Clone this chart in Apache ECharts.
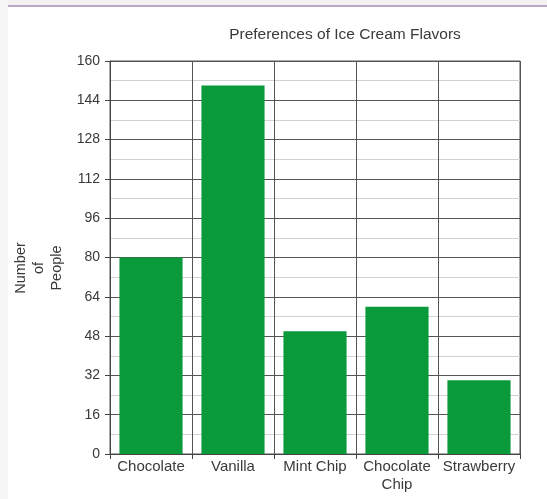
<!DOCTYPE html>
<html>
<head>
<meta charset="utf-8">
<script src="https://cdn.jsdelivr.net/npm/echarts@6/dist/echarts.min.js"></script>
<style>
  html, body { margin: 0; padding: 0; background: #ffffff; }
  #chart { width: 547px; height: 499px; }
</style>
</head>
<body>
<div id="chart"></div>
<script>
// Survey results: how many people prefer each ice cream flavor
const flavors = ['Chocolate', 'Vanilla', 'Mint Chip', 'Chocolate\nChip', 'Strawberry'];
const people = [80, 150, 50, 60, 30];
const yTicks = { min: 0, max: 160, step: 16 };

const font = '"Liberation Sans", Arial, sans-serif';
const textColor = '#3a3a3a';

const chart = echarts.init(document.getElementById('chart'), null, { renderer: 'canvas' });

chart.setOption({
  backgroundColor: '#ffffff',
  animation: false,
  title: {
    text: 'Preferences of Ice Cream Flavors',
    left: 340,
    top: 22,
    textAlign: 'center',
    textStyle: { fontFamily: font, fontSize: 15.5, fontWeight: 'normal', color: textColor }
  },
  graphic: [
    // thin grey band with a violet rule across the top
    { type: 'rect', shape: { x: 0, y: 0, width: 547, height: 5 }, style: { fill: '#f3f3f3' }, silent: true },
    { type: 'rect', shape: { x: 0, y: 0, width: 8, height: 499 }, style: { fill: '#f7f7f7' }, silent: true },
    { type: 'rect', shape: { x: 8, y: 5, width: 539, height: 2 }, style: { fill: '#bca6c4' }, silent: true },
    {
      type: 'text',
      x: 39, y: 268,
      rotation: Math.PI / 2,
      style: {
        text: 'Number\nof\nPeople',
        fontFamily: font, fontSize: 14.5, fill: textColor,
        align: 'center', verticalAlign: 'middle', lineHeight: 18
      }
    }
  ],
  grid: {
    left: 110, right: 27, top: 61, bottom: 45,
    show: true, borderColor: '#555555', borderWidth: 1,
    backgroundColor: 'transparent'
  },
  xAxis: {
    type: 'category',
    data: flavors,
    boundaryGap: true,
    axisLine: { show: true, lineStyle: { color: '#444444', width: 1 } },
    axisTick: { show: true, length: 5, lineStyle: { color: '#444444' } },
    splitLine: { show: true, lineStyle: { color: '#555555', width: 1 } },
    axisLabel: {
      interval: 0, margin: 4,
      fontFamily: font, fontSize: 15, color: textColor, lineHeight: 18
    }
  },
  yAxis: {
    type: 'value',
    min: yTicks.min, max: yTicks.max, interval: yTicks.step,
    axisLine: { show: true, lineStyle: { color: '#444444', width: 1 } },
    axisTick: { show: true, length: 5, lineStyle: { color: '#444444' } },
    axisLabel: { margin: 10, fontFamily: font, fontSize: 14, color: textColor },
    splitLine: { show: true, lineStyle: { color: '#555555', width: 1 } },
    minorTick: { show: false, splitNumber: 2 },
    minorSplitLine: { show: true, lineStyle: { color: '#d2d2d2', width: 1 } }
  },
  series: [{
    type: 'bar',
    data: people,
    barCategoryGap: '23%',
    itemStyle: { color: '#0a9a3c' },
    z: 3
  }]
});
</script>
</body>
</html>
